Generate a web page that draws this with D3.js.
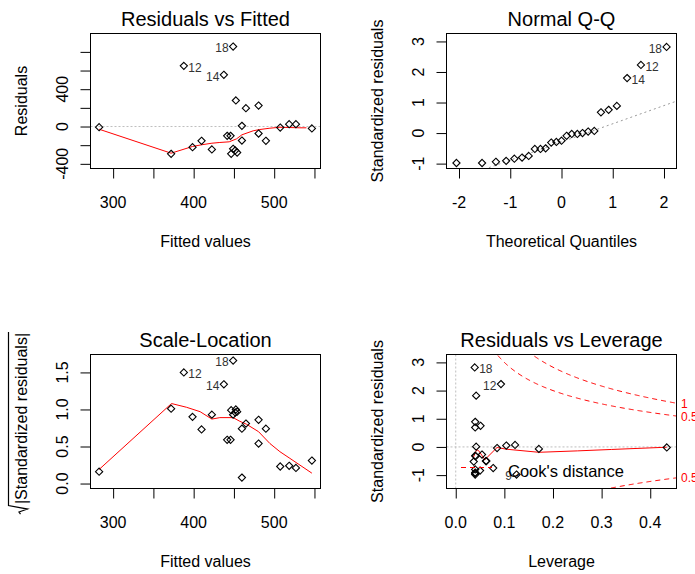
<!DOCTYPE html>
<html><head><meta charset="utf-8">
<script src="https://cdn.jsdelivr.net/npm/d3@7"></script>
<style>
body{margin:0;background:#fff}
svg{display:block}
text{font-family:"Liberation Sans", Arial, Helvetica, sans-serif}
</style>
</head><body>
<svg id="c" width="695" height="574"></svg>
<script>
// ---------------- data ----------------
const obsId      = [2, 9, 12, 5, 20, 7, 14, 1, 3, 18, 4, 6, 8, 10, 11, 13, 15, 16, 17, 19, 21, 22, 23, 24, 25];
const fittedVals = [282.6, 372.0, 387.8, 398.6, 409.8, 422.6, 437.5, 441.6, 445.8, 449.0, 449.0, 451.6, 446.6, 454.0, 452.4, 459.9, 459.9, 464.9, 480.6, 480.6, 489.7, 507.5, 518.6, 527.0, 546.8];
const residVals  = [-7, -293, 650, -222, -153, -246, 554, -100, -100, 857, -239, -257, -293, -279, 279, 7, -150, 196, 225, -75, -153, -11, 25, 25, -21];
const stdResid   = [-0.02, -0.98, 2.23, -0.75, -0.50, -0.84, 1.82, -0.33, -0.31, 2.82, -0.80, -0.91, -0.98, -0.94, 0.89, 0.01, -0.52, 0.69, 0.75, -0.27, -0.50, -0.04, 0.05, 0.07, -0.07];
const leverage   = [0.434, 0.125, 0.093, 0.077, 0.062, 0.050, 0.042, 0.041, 0.040, 0.039, 0.040, 0.040, 0.040, 0.040, 0.040, 0.042, 0.037, 0.040, 0.051, 0.054, 0.063, 0.085, 0.104, 0.122, 0.171];
const sqrtAbsStd = [0.16, 1.01, 1.50, 0.90, 0.73, 0.93, 1.34, 0.59, 0.59, 1.66, 0.93, 0.96, 0.99, 0.97, 1.00, 0.08, 0.74, 0.81, 0.86, 0.54, 0.74, 0.23, 0.24, 0.21, 0.31];

const qqTheo   = [-2.05, -1.55, -1.28, -1.08, -0.92, -0.77, -0.64, -0.52, -0.41, -0.31, -0.20, -0.10, 0.00, 0.10, 0.20, 0.31, 0.41, 0.52, 0.64, 0.77, 0.92, 1.08, 1.28, 1.55, 2.05];
const qqSample = [-0.98, -0.98, -0.94, -0.91, -0.84, -0.80, -0.75, -0.52, -0.52, -0.50, -0.31, -0.29, -0.25, -0.09, -0.03, -0.03, 0.00, 0.05, 0.07, 0.68, 0.76, 0.89, 1.80, 2.23, 2.82];
const qqLabelRanks = [25, 24, 23];
const qqLabelIds   = ["18", "12", "14"];
const qqLineIntercept = -0.29, qqLineSlope = 0.595;

const smoothRFx = [282.6, 372.0, 398.6, 409.8, 422.6, 432.5, 444.1, 453.3, 459.9, 473.9, 482.2, 494.7, 507.1, 531.9, 540.0];
const smoothRFy = [-29, -286, -214, -196, -179, -171, -164, -132, -89, -46, -32, -18, -8, -14, -14];
const smoothSLx = [282.6, 372.5, 391.0, 408.0, 422.6, 432.5, 449.0, 457.4, 465.7, 480.6, 494.7, 507.1, 519.5, 546.8];
const smoothSLy = [0.19, 1.08, 1.03, 0.97, 0.87, 0.89, 0.89, 0.84, 0.80, 0.70, 0.54, 0.43, 0.34, 0.14];
const smoothRLx = [0.036, 0.043, 0.047, 0.060, 0.085, 0.104, 0.171, 0.250, 0.320, 0.434];
const smoothRLy = [-0.38, -0.10, -0.13, -0.45, -0.02, -0.08, -0.19, -0.14, -0.09, -0.01];

const cookLevels = [0.5, 1];
const nParams = 2;

const rfXTicks = [300, 350, 400, 450, 500, 550], rfXLabels = [300, 400, 500];
const rfYTicks = [-400, -200, 0, 200, 400, 600, 800], rfYLabels = [-400, 0, 400];
const qqXTicks = [-2, -1, 0, 1, 2], qqYTicks = [-1, 0, 1, 2, 3];
const slYTicks = [0, 0.5, 1, 1.5];
const rlXTicks = [0, 0.1, 0.2, 0.3, 0.4], rlYTicks = [-1, 0, 1, 2, 3];

// ---------------- drawing ----------------
const svg = d3.select("#c");
const defs = svg.append("defs");
const diamond = "M0,-3.6L3.6,0L0,3.6L-3.6,0Z";
const LABCOL = "#333";

function panel(o) {
  const x = d3.scaleLinear().domain(o.xDomain).range([o.left, o.right]);
  const y = d3.scaleLinear().domain(o.yDomain).range([o.bottom, o.top]);
  const g = svg.append("g");
  defs.append("clipPath").attr("id", "cl" + o.key).append("rect")
    .attr("x", o.left).attr("y", o.top).attr("width", o.right - o.left).attr("height", o.bottom - o.top);
  const inner = g.append("g").attr("clip-path", `url(#cl${o.key})`);

  // box
  g.append("rect").attr("x", o.left).attr("y", o.top).attr("width", o.right - o.left).attr("height", o.bottom - o.top)
    .attr("fill", "none").attr("stroke", "#000").attr("stroke-width", 1);

  // x ticks
  const xa = g.append("g").attr("transform", `translate(0,${o.bottom})`)
    .call(d3.axisBottom(x).tickValues(o.xTicks).tickSize(10).tickFormat(""));
  xa.select(".domain").remove();
  xa.selectAll("line").attr("stroke", "#000");
  g.selectAll(null).data(o.xLabels).enter().append("text")
    .attr("x", d => x(d)).attr("y", o.bottom + 39.5).attr("text-anchor", "middle")
    .attr("font-size", 16).attr("fill", "#000").text(o.xFmt);

  // y ticks
  const ya = g.append("g").attr("transform", `translate(${o.left},0)`)
    .call(d3.axisLeft(y).tickValues(o.yTicks).tickSize(10).tickFormat(""));
  ya.select(".domain").remove();
  ya.selectAll("line").attr("stroke", "#000");
  g.selectAll(null).data(o.yLabels).enter().append("text")
    .attr("transform", d => `translate(${o.left - 23},${y(d)}) rotate(-90)`)
    .attr("text-anchor", "middle").attr("font-size", 16).attr("fill", "#000").text(o.yFmt);

  // titles
  const cx = (o.left + o.right) / 2, cy = (o.top + o.bottom) / 2;
  g.append("text").attr("x", cx).attr("y", o.top - 7.5).attr("text-anchor", "middle")
    .attr("font-size", 20).attr("fill", "#000").text(o.title);
  g.append("text").attr("x", cx).attr("y", o.bottom + 78.3).attr("text-anchor", "middle")
    .attr("font-size", 16).attr("fill", "#000").text(o.xTitle);
  if (o.yTitle) {
    g.append("text").attr("transform", `translate(${o.left - 64},${cy}) rotate(-90)`)
      .attr("text-anchor", "middle").attr("font-size", 16).attr("fill", "#000").text(o.yTitle);
  }
  return {x, y, g, inner};
}

function drawPoints(p, xs, ys) {
  p.g.selectAll(null).data(xs).enter().append("path")
    .attr("d", diamond)
    .attr("transform", (d, i) => `translate(${p.x(d)},${p.y(ys[i])})`)
    .attr("fill", "none").attr("stroke", "#000").attr("stroke-width", 1.1);
}
function drawLabel(p, xv, yv, txt, side) {
  const px = p.x(xv), py = p.y(yv);
  p.g.append("text").attr("x", side === "left" ? px - 4.5 : px + 4.5).attr("y", py + 5.8)
    .attr("text-anchor", side === "left" ? "end" : "start")
    .attr("font-size", 12).attr("fill", LABCOL).text(txt);
}
function drawSmooth(p, xs, ys) {
  const line = d3.line().x(d => p.x(d[0])).y(d => p.y(d[1]));
  p.inner.append("path").datum(xs.map((d, i) => [d, ys[i]])).attr("d", line)
    .attr("fill", "none").attr("stroke", "#ff0000").attr("stroke-width", 1);
}
function hDotted(p, v) {
  p.inner.append("line").attr("x1", p.x.range()[0]).attr("x2", p.x.range()[1])
    .attr("y1", p.y(v)).attr("y2", p.y(v))
    .attr("stroke", "#bebebe").attr("stroke-width", 1).attr("stroke-dasharray", "2,2");
}
function vDotted(p, v) {
  p.inner.append("line").attr("y1", p.y.range()[0]).attr("y2", p.y.range()[1])
    .attr("x1", p.x(v)).attr("x2", p.x(v))
    .attr("stroke", "#bebebe").attr("stroke-width", 1).attr("stroke-dasharray", "2,2");
}
const idx = id => obsId.indexOf(id);
const fmt0 = d => String(d).replace("-", "-");
const fmt1 = d => d.toFixed(1);

// ---- Panel 1: Residuals vs Fitted ----
const p1 = panel({key: 1, left: 90.5, right: 320.5, top: 33.5, bottom: 168.5,
  xDomain: [271.9, 557.5], yDomain: [-450, 997],
  xTicks: rfXTicks, xLabels: rfXLabels, xFmt: fmt0,
  yTicks: rfYTicks, yLabels: rfYLabels, yFmt: fmt0,
  title: "Residuals vs Fitted", xTitle: "Fitted values", yTitle: "Residuals"});
hDotted(p1, 0);
drawSmooth(p1, smoothRFx, smoothRFy);
drawPoints(p1, fittedVals, residVals);
[[18, "left"], [14, "left"], [12, "right"]].forEach(([id, s]) => {
  const i = idx(id); drawLabel(p1, fittedVals[i], residVals[i], String(id), s);
});

// ---- Panel 2: Normal Q-Q ----
const p2 = panel({key: 2, left: 446.5, right: 676.5, top: 33.5, bottom: 168.5,
  xDomain: [-2.244, 2.244], yDomain: [-1.16, 3.26],
  xTicks: qqXTicks, xLabels: qqXTicks, xFmt: fmt0,
  yTicks: qqYTicks, yLabels: qqYTicks, yFmt: fmt0,
  title: "Normal Q-Q", xTitle: "Theoretical Quantiles", yTitle: "Standardized residuals"});
{
  const xd = p2.x.domain();
  p2.inner.append("line")
    .attr("x1", p2.x(xd[0])).attr("y1", p2.y(qqLineIntercept + qqLineSlope * xd[0]))
    .attr("x2", p2.x(xd[1])).attr("y2", p2.y(qqLineIntercept + qqLineSlope * xd[1]))
    .attr("stroke", "#9a9a9a").attr("stroke-width", 1).attr("stroke-dasharray", "2,3");
}
drawPoints(p2, qqTheo, qqSample);
qqLabelRanks.forEach((r, k) => {
  drawLabel(p2, qqTheo[r - 1], qqSample[r - 1], qqLabelIds[k], k === 0 ? "left" : "right");
});

// ---- Panel 3: Scale-Location ----
const p3 = panel({key: 3, left: 90.5, right: 320.5, top: 354.5, bottom: 488.5,
  xDomain: [271.9, 557.5], yDomain: [-0.067, 1.742],
  xTicks: rfXTicks, xLabels: rfXLabels, xFmt: fmt0,
  yTicks: slYTicks, yLabels: slYTicks, yFmt: fmt1,
  title: "Scale-Location", xTitle: "Fitted values", yTitle: null});
drawSmooth(p3, smoothSLx, smoothSLy);
drawPoints(p3, fittedVals, sqrtAbsStd);
[[12, "right"], [14, "left"], [18, "left"]].forEach(([id, s]) => {
  const i = idx(id); drawLabel(p3, fittedVals[i], sqrtAbsStd[i], String(id), s);
});
{
  // sqrt(|Standardized residuals|) axis title
  const cy = 418.5;
  const gt = p3.g.append("g").attr("transform", `translate(${90.5 - 64},${cy}) rotate(-90)`);
  const t = gt.append("text").attr("text-anchor", "middle").attr("font-size", 16).attr("fill", "#000")
    .text("|Standardized residuals|");
  const w = t.node().getComputedTextLength();
  const a = -w / 2;
  gt.append("path")
    .attr("d", `M${a - 10},-6 L${a - 8},-7.5 L${a - 5},1 L${a - 1.5},-18 L${w / 2 + 1},-18`)
    .attr("fill", "none").attr("stroke", "#000").attr("stroke-width", 1.2);
}

// ---- Panel 4: Residuals vs Leverage ----
const p4 = panel({key: 4, left: 446.5, right: 676.5, top: 354.5, bottom: 488.5,
  xDomain: [-0.019, 0.454], yDomain: [-1.475, 3.28],
  xTicks: rlXTicks, xLabels: rlXTicks, xFmt: fmt1,
  yTicks: rlYTicks, yLabels: rlYTicks, yFmt: fmt0,
  title: "Residuals vs Leverage", xTitle: "Leverage", yTitle: "Standardized residuals"});
hDotted(p4, 0);
vDotted(p4, 0);
{
  const xmax = p4.x.domain()[1];
  const hh = d3.range(0.004, xmax, 0.002).concat([xmax]);
  cookLevels.forEach(c => {
    [1, -1].forEach(sg => {
      const pts = hh.map(h => [h, sg * Math.sqrt(c * nParams * (1 - h) / h)]);
      p4.inner.append("path").datum(pts)
        .attr("d", d3.line().x(d => p4.x(d[0])).y(d => p4.y(d[1])))
        .attr("fill", "none").attr("stroke", "#ff0000").attr("stroke-width", 1).attr("stroke-dasharray", "5,4");
      const yv = sg * Math.sqrt(c * nParams * (1 - xmax) / xmax);
      if (yv < p4.y.domain()[1] && yv > p4.y.domain()[0]) {
        svg.append("text").attr("x", 681).attr("y", p4.y(yv) + 4.5).attr("font-size", 12)
          .attr("fill", "#ff0000").text(String(c));
      }
    });
  });
}
drawSmooth(p4, smoothRLx, smoothRLy);
drawPoints(p4, leverage, stdResid);
[[18, "right"], [12, "left"], [9, "left"]].forEach(([id, s]) => {
  const i = idx(id); drawLabel(p4, leverage[i], stdResid[i], String(id), s);
});
// legend
p4.g.append("line").attr("x1", 461).attr("x2", 492).attr("y1", 467.5).attr("y2", 467.5)
  .attr("stroke", "#ff0000").attr("stroke-width", 1).attr("stroke-dasharray", "5,4");
p4.g.append("text").attr("x", 508).attr("y", 476.7).attr("font-size", 16.5).attr("fill", "#000")
  .text("Cook's distance");
</script>
</body></html>
